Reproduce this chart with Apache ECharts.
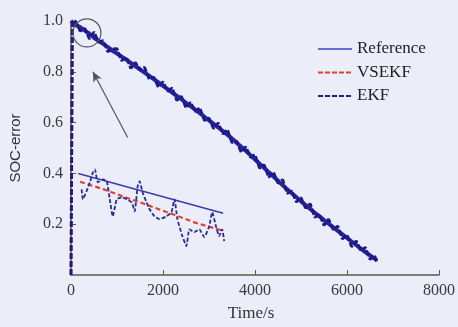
<!DOCTYPE html>
<html><head><meta charset="utf-8">
<script src="https://cdn.jsdelivr.net/npm/echarts@6/dist/echarts.min.js"></script>
<style>html,body{margin:0;padding:0;background:#ebedf9}#c{width:458px;height:327px}</style>
</head><body><div id="c"></div>
<script>
// Main curves (time in s)
const timeMain = [0,30,100,200,300,400,500,600,700,800,900,1000,1100,1200,1300,1400,1500,1600,1700,1800,1900,2000,2100,2200,2300,2400,2500,2600,2700,2800,2900,3000,3100,3200,3300,3400,3500,3600,3700,3800,3900,4000,4100,4200,4300,4400,4500,4600,4700,4800,4900,5000,5100,5200,5300,5400,5500,5600,5700,5800,5900,6000,6100,6200,6300,6400,6500,6600,6650];
const refMain = [1.0,0.995,0.985,0.975,0.962,0.950,0.935,0.922,0.910,0.897,0.884,0.872,0.860,0.848,0.835,0.822,0.810,0.797,0.784,0.771,0.758,0.745,0.732,0.718,0.705,0.692,0.678,0.665,0.651,0.637,0.623,0.609,0.595,0.581,0.567,0.552,0.537,0.521,0.505,0.489,0.472,0.455,0.438,0.421,0.405,0.388,0.371,0.354,0.337,0.322,0.306,0.290,0.275,0.260,0.245,0.231,0.216,0.202,0.188,0.174,0.160,0.146,0.132,0.118,0.104,0.090,0.077,0.064,0.057];
const vsekfMain = [0,1.0,0.980,0.978,0.958,0.953,0.931,0.925,0.906,0.900,0.880,0.875,0.856,0.851,0.831,0.826,0.806,0.800,0.780,0.775,0.754,0.749,0.728,0.722,0.701,0.696,0.674,0.669,0.647,0.641,0.619,0.613,0.591,0.585,0.563,0.556,0.533,0.525,0.501,0.493,0.468,0.459,0.434,0.425,0.401,0.392,0.367,0.358,0.333,0.326,0.302,0.294,0.271,0.264,0.241,0.235,0.212,0.206,0.184,0.178,0.156,0.150,0.128,0.122,0.100,0.094,0.073,0.068,0.054];
const ekfMain = [0,1.0,0.999,0.960,0.971,0.929,0.957,0.916,0.923,0.879,0.890,0.891,0.844,0.858,0.813,0.837,0.806,0.818,0.771,0.779,0.739,0.761,0.723,0.737,0.687,0.704,0.657,0.680,0.643,0.659,0.608,0.618,0.576,0.599,0.555,0.573,0.521,0.527,0.483,0.505,0.463,0.474,0.420,0.434,0.384,0.406,0.361,0.376,0.321,0.331,0.287,0.305,0.263,0.281,0.227,0.239,0.195,0.220,0.178,0.193,0.142,0.158,0.111,0.134,0.095,0.109,0.061,0.077,0.049];

// Magnified inset (drawn in the same axes)
const insetRefTime = [158,3308];
const insetRef = [0.400,0.243];
const insetVsTime = [195,700,1200,1700,2200,2700,3308];
const insetVs = [0.367,0.338,0.305,0.273,0.240,0.206,0.174];
const insetEkfTime = [231,259,339,411,476,519,584,692,778,843,908,995,1103,1211,1319,1384,1449,1492,1557,1643,1708,1816,1924,2076,2184,2249,2313,2421,2508,2573,2681,2789,2897,3005,3070,3157,3221,3286,3330];
const insetEkf = [0.337,0.298,0.331,0.365,0.404,0.416,0.365,0.376,0.369,0.298,0.231,0.298,0.306,0.298,0.286,0.251,0.349,0.369,0.325,0.286,0.259,0.231,0.220,0.231,0.247,0.298,0.220,0.153,0.114,0.180,0.169,0.180,0.149,0.192,0.247,0.188,0.153,0.180,0.133];

// Annotation (circle + arrow), data coordinates
const circleAt = [346,0.953];
const arrowFrom = [1232,0.541];
const arrowTo = [476,0.80];

const xTicks = {min:0,max:8000,interval:2000};
const yTicks = {min:0,max:1.0,interval:0.2};

const zip = (a,b)=>a.map((v,i)=>[v,b[i]]);
const C_REF='#26269c', C_VS='#e4402c', C_EKF='#1a1a8e';
const serif='"Liberation Serif","DejaVu Serif",serif';
const sans='"Liberation Sans","DejaVu Sans",sans-serif';
const axisCol='#5b5a48';

const chart = echarts.init(document.getElementById('c'),null,{renderer:'canvas'});
chart.setOption({
  backgroundColor:'#ebedf9',
  animation:false,
  grid:{left:71,right:19,top:21,bottom:50},
  legend:{
    orient:'vertical',left:312,top:35.5,itemWidth:34,itemHeight:14,itemGap:6.5,
    textStyle:{fontFamily:serif,fontSize:17,lineHeight:17,color:'#222'},
    itemStyle:{opacity:0,borderWidth:0},
    data:[
      {name:'Reference',lineStyle:{color:'#6a6ad4',width:2,type:'solid'}},
      {name:'VSEKF',lineStyle:{color:'#e4402c',width:2,type:[5,2]}},
      {name:'EKF',lineStyle:{color:'#1e1e96',width:2,type:[5,2]}}
    ]
  },
  xAxis:{type:'value',min:xTicks.min,max:xTicks.max,interval:xTicks.interval,
    name:'Time/s',nameLocation:'middle',nameGap:30,
    nameTextStyle:{fontFamily:serif,fontSize:17,color:'#333',padding:[0,8,0,0]},
    axisLine:{lineStyle:{color:axisCol,width:1.5}},
    axisTick:{inside:true,length:5,lineStyle:{color:axisCol}},
    axisLabel:{fontFamily:serif,fontSize:16,color:'#3a3a3a',margin:8,formatter:v=>String(v)},
    splitLine:{show:false}},
  yAxis:{type:'value',min:yTicks.min,max:yTicks.max,interval:yTicks.interval,
    name:'SOC-error',nameLocation:'middle',nameGap:48,
    nameTextStyle:{fontFamily:sans,fontSize:15,color:'#333'},
    axisLine:{show:true,lineStyle:{color:axisCol,width:1.5}},
    axisTick:{show:true,inside:true,length:5,lineStyle:{color:axisCol}},
    axisLabel:{fontFamily:serif,fontSize:16,color:'#3a3a3a',margin:8,showMinLabel:false,
      formatter:v=>v.toFixed(1)},
    splitLine:{show:false}},
  series:[
    {name:'VSEKF',type:'line',data:zip(timeMain,vsekfMain),symbol:'none',
      lineStyle:{color:C_VS,width:3,type:[5,3]},itemStyle:{color:C_VS},z:2},
    {name:'Reference',type:'line',data:zip(timeMain,refMain),symbol:'none',
      lineStyle:{color:C_REF,width:4},itemStyle:{color:C_REF},z:3},
    {name:'EKF',type:'line',data:zip(timeMain,ekfMain),symbol:'none',
      lineStyle:{color:C_EKF,width:2.8,type:[6,2]},itemStyle:{color:C_EKF},z:4,
      markPoint:{symbol:'circle',symbolSize:28,silent:true,label:{show:false},
        itemStyle:{color:'rgba(0,0,0,0)',borderColor:'#555',borderWidth:1.2},
        data:[{coord:circleAt}]},
      markLine:{silent:true,symbol:['none','arrow'],symbolSize:[7,10],label:{show:false},
        lineStyle:{color:'#555',width:1.2,type:'solid'},
        data:[[{coord:arrowFrom},{coord:arrowTo}]]}},
    {name:'Reference',type:'line',data:zip(insetRefTime,insetRef),symbol:'none',
      lineStyle:{color:'#3a3aae',width:1.6},itemStyle:{color:'#3a3aae'},z:5},
    {name:'VSEKF',type:'line',data:zip(insetVsTime,insetVs),symbol:'none',
      lineStyle:{color:C_VS,width:2.2,type:[5,3]},itemStyle:{color:C_VS},z:5},
    {name:'EKF',type:'line',data:zip(insetEkfTime,insetEkf),symbol:'none',smooth:0.15,
      lineStyle:{color:'#2a2aa0',width:1.8,type:[4,2]},itemStyle:{color:'#2a2aa0'},z:6}
  ]
});
</script></body></html>
